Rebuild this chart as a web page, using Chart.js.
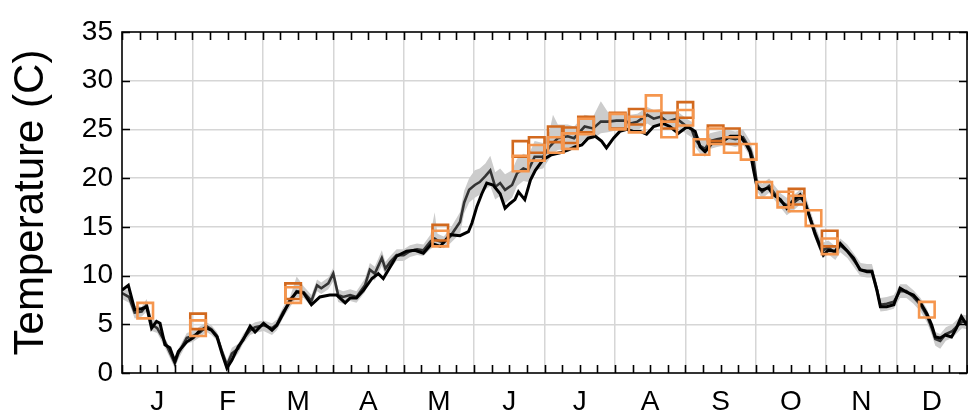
<!DOCTYPE html>
<html>
<head>
<meta charset="utf-8">
<script src="https://cdn.jsdelivr.net/npm/chart.js@4/dist/chart.umd.min.js"></script>
<style>
  html, body { margin: 0; padding: 0; background: #ffffff; overflow: hidden; }
  #wrap { width: 968px; height: 414px; position: relative; overflow: hidden; }
  canvas { display: block; }
</style>
</head>
<body>
<div id="wrap"><canvas id="c" width="968" height="414"></canvas></div>
<script>
// Month tick labels (axis is in months, 0..12)
const monthLabels = ['J','F','M','A','M','J','J','A','S','O','N','D'];

// Series A: black line (month position, temperature C)
const xA = [0.00,0.09,0.18,0.28,0.35,0.42,0.49,0.54,0.61,0.68,0.75,0.80,0.92,
  1.01,1.11,1.20,1.27,1.35,1.42,1.49,1.56,1.65,1.72,1.82,1.89,
  2.01,2.13,2.20,2.29,2.39,2.48,2.58,2.69,2.81,2.95,
  3.05,3.17,3.24,3.33,3.43,3.55,3.64,3.71,3.81,3.90,
  4.04,4.16,4.28,4.40,4.52,4.66,4.80,4.92,4.97,
  5.04,5.11,5.18,5.27,5.37,5.44,5.51,5.58,5.63,5.72,5.80,5.87,5.98,
  6.10,6.22,6.34,6.43,6.53,6.62,6.72,6.81,6.88,6.98,
  7.07,7.17,7.26,7.36,7.45,7.55,7.69,7.78,7.90,
  8.03,8.14,8.21,8.28,8.38,8.49,8.64,8.78,8.87,8.92,8.97,
  9.02,9.09,9.18,9.25,9.35,9.44,9.54,9.63,9.70,9.77,9.84,9.91,9.96,
  10.03,10.13,10.20,10.29,10.39,10.48,10.58,10.65,10.72,10.77,10.86,10.96,
  11.05,11.14,11.24,11.34,11.43,11.50,11.55,11.62,11.69,11.78,11.85,11.92,12.00];
const yA = [8.5,9.0,6.5,6.6,6.8,4.6,5.3,5.1,2.9,2.6,1.2,2.2,3.2,
  3.6,4.4,4.6,4.4,3.7,2.0,0.5,1.3,2.7,3.4,4.8,4.2,
  5.1,4.4,4.9,6.1,7.5,8.3,8.2,7.0,7.8,8.0,
  8.0,7.2,7.7,7.7,8.5,9.7,10.2,9.7,10.9,12.0,
  12.5,12.6,12.3,13.3,13.0,14.2,14.1,14.5,15.4,
  17.1,18.4,19.5,19.3,18.4,16.9,17.4,17.8,18.6,17.8,19.8,20.8,21.9,
  22.4,22.6,22.9,23.2,23.4,24.1,24.3,23.8,23.1,24.1,
  24.8,25.0,24.8,24.8,24.5,25.3,25.6,25.3,24.6,
  25.3,24.8,23.2,22.7,23.6,23.6,24.3,24.3,23.4,22.7,20.8,
  19.0,18.8,19.0,18.3,17.8,16.9,17.8,18.3,17.4,15.9,14.3,13.0,12.1,
  12.6,12.5,13.3,12.6,11.8,10.6,10.4,10.4,8.5,6.8,6.8,7.0,
  8.7,8.3,8.0,7.2,6.1,4.9,3.7,3.6,3.9,3.7,4.6,5.8,4.9];

// Series B: dark grey line with light grey range band (shared month positions)
const xB = [0.00,0.10,0.18,0.28,0.35,0.42,0.50,0.61,0.75,0.80,0.92,
  1.01,1.11,1.20,1.27,1.35,1.42,1.49,1.56,1.65,1.72,1.82,1.89,
  2.01,2.13,2.20,2.29,2.39,2.48,2.58,2.69,2.77,2.83,2.93,
  3.00,3.07,3.14,3.24,3.33,3.45,3.52,3.59,3.69,3.74,3.81,3.90,
  4.00,4.09,4.19,4.28,4.38,4.44,4.48,4.57,4.66,4.80,4.86,4.93,
  5.01,5.08,5.16,5.23,5.30,5.37,5.44,5.54,5.61,5.70,5.77,5.86,5.98,
  6.07,6.12,6.19,6.33,6.42,6.57,6.69,6.80,6.90,
  7.02,7.14,7.22,7.32,7.46,7.55,7.65,7.74,7.88,
  8.02,8.09,8.14,8.21,8.28,8.35,8.45,8.59,8.71,8.82,8.92,8.97,
  9.02,9.09,9.19,9.26,9.36,9.44,9.54,9.63,9.70,9.77,9.84,9.91,9.96,
  10.03,10.13,10.20,10.30,10.39,10.49,10.58,10.65,10.72,10.77,10.86,10.96,
  11.05,11.14,11.24,11.34,11.43,11.50,11.55,11.62,11.70,11.79,11.86,11.93,12.00];
const yB = [8.2,7.8,6.2,6.3,7.0,5.0,4.6,3.2,1.0,2.0,3.6,
  3.8,4.2,4.8,4.5,3.8,2.2,0.8,2.0,2.5,3.5,4.4,4.7,
  4.9,4.6,5.0,6.3,7.3,8.4,8.3,7.4,9.0,8.7,9.2,
  10.2,8.0,7.8,8.0,7.8,9.0,10.6,10.2,11.8,10.7,11.4,12.1,
  12.1,12.5,12.7,12.6,13.5,13.8,13.6,13.4,14.0,15.5,17.5,18.8,
  19.3,19.6,20.2,20.8,19.1,19.5,18.8,19.3,20.5,21.0,20.8,22.2,22.2,
  23.2,23.6,24.1,24.3,24.1,25.3,25.1,25.8,25.8,
  25.9,25.9,25.6,25.8,26.5,26.1,26.3,25.8,26.1,
  25.3,25.0,24.0,23.3,23.0,23.8,24.0,24.2,24.0,24.2,23.0,21.8,
  19.3,18.6,19.2,18.5,17.6,17.2,17.5,18.0,17.6,16.0,14.5,13.2,12.6,
  12.9,12.3,13.1,12.5,11.6,10.6,10.5,10.5,8.6,7.0,7.1,7.3,
  8.4,8.4,7.8,7.0,5.9,4.6,3.5,3.3,4.0,4.3,4.8,5.3,5.2];
const bandHi = [8.7,8.5,6.9,6.8,7.6,5.6,5.3,3.6,1.6,2.5,4.1,
  4.3,4.8,5.2,4.9,4.2,2.7,1.3,2.6,3.0,4.0,4.9,5.2,
  5.4,5.1,5.5,6.8,7.9,9.9,8.9,8.0,9.6,9.3,9.8,
  10.8,8.6,8.4,8.6,8.4,9.7,11.3,10.9,12.6,11.4,12.0,12.7,
  12.7,13.1,13.3,13.2,14.2,16.5,14.3,14.0,14.8,16.5,18.7,20.0,
  20.8,21.0,21.5,22.3,20.6,21.0,20.4,20.8,22.0,22.5,22.3,23.8,23.6,
  24.8,26.5,25.5,25.5,25.3,26.5,26.3,27.9,26.8,
  26.8,26.8,26.5,26.6,27.3,27.0,27.1,26.6,26.9,
  26.1,25.8,24.8,24.1,23.9,24.6,24.8,25.0,24.8,25.0,23.8,22.6,
  20.0,19.4,20.0,19.3,18.4,18.0,18.3,18.8,18.4,16.8,15.2,13.9,13.4,
  13.6,13.0,13.8,13.2,12.3,11.3,11.2,11.2,9.3,7.7,7.8,8.0,
  9.1,9.1,8.5,7.7,6.6,5.3,4.2,4.0,4.7,5.0,5.5,6.0,5.9];
const bandLo = [7.6,7.2,5.6,5.8,6.3,4.3,4.1,2.6,0.5,1.4,3.0,
  3.2,3.7,4.2,3.9,3.3,1.7,0.0,1.2,2.0,3.0,3.9,4.1,
  4.3,3.9,4.4,5.7,6.8,7.8,7.7,6.8,8.4,8.1,8.6,
  9.4,7.3,7.1,7.4,7.2,8.3,9.8,9.5,11.0,10.0,10.7,11.5,
  11.5,11.9,12.1,12.0,12.7,13.0,13.0,12.8,13.3,14.3,16.4,17.5,
  18.0,18.3,18.8,19.2,17.8,18.2,17.4,18.0,19.2,19.7,19.6,20.8,21.0,
  22.0,22.5,22.9,23.0,23.0,24.0,24.0,24.6,24.7,
  24.9,25.0,24.7,24.9,25.6,25.2,25.4,25.0,25.3,
  24.5,24.2,23.2,22.5,22.2,23.0,23.2,23.4,23.2,23.4,22.2,21.0,
  18.6,17.9,18.5,17.8,16.9,16.2,16.7,17.3,16.9,15.3,13.8,12.5,11.8,
  12.2,11.6,12.4,11.8,10.9,9.9,9.8,9.8,7.9,6.3,6.4,6.6,
  7.7,7.7,7.1,6.3,5.2,3.9,2.8,2.5,3.3,3.6,4.1,4.6,4.5];

// Observations: dark orange squares
const xObsDark = [1.08,2.43,4.52,5.66,5.89,6.16,6.36,6.59,7.04,7.31,7.77,8.00,8.43,8.66,9.58,10.05];
const yObsDark = [5.3,8.4,14.4,23.0,23.4,24.5,24.4,25.5,25.9,26.3,25.9,27.0,24.6,24.3,18.1,13.8];
// Observations: light orange squares
const xObsLight = [0.33,1.08,2.43,4.52,5.66,5.89,6.16,6.36,6.59,7.04,7.31,7.55,7.77,8.00,8.23,8.43,8.66,8.90,9.12,9.42,9.58,9.82,10.05,11.43];
const yObsLight = [6.4,4.6,8.0,13.8,21.5,22.6,23.4,23.8,25.3,25.8,25.5,27.7,25.0,26.2,23.2,24.3,23.4,22.7,18.8,17.8,17.4,15.9,13.0,6.5];

const pts = (xs, ys) => xs.map((x, i) => ({ x: x, y: ys[i] }));

const FONT = "'Liberation Sans', Arial, Helvetica, sans-serif";

const frameAndTicks = {
  id: 'frameAndTicks',
  afterDatasetsDraw(chart) {
    const { ctx, chartArea: a, scales } = chart;
    const xs = scales.x, ys = scales.y;
    ctx.save();
    ctx.strokeStyle = '#000';
    ctx.lineWidth = 1.6;
    ctx.beginPath();
    xs.ticks.forEach(t => {
      const px = Math.round(xs.getPixelForValue(t.value)) + 0.5;
      ctx.moveTo(px, a.bottom); ctx.lineTo(px, a.bottom - 8);
      ctx.moveTo(px, a.top); ctx.lineTo(px, a.top + 8);
    });
    ys.ticks.forEach(t => {
      const py = Math.round(ys.getPixelForValue(t.value)) + 0.5;
      ctx.moveTo(a.left, py); ctx.lineTo(a.left + 8, py);
      ctx.moveTo(a.right, py); ctx.lineTo(a.right - 8, py);
    });
    ctx.stroke();
    ctx.lineWidth = 1.6;
    ctx.strokeRect(a.left, a.top, a.right - a.left, a.bottom - a.top);
    ctx.restore();
  }
};

new Chart(document.getElementById('c'), {
  type: 'line',
  data: {
    datasets: [
      { label: 'obsLight', data: pts(xObsLight, yObsLight), showLine: false,
        pointStyle: 'rect', pointRadius: 11, pointBorderWidth: 2.6,
        pointBorderColor: '#F5964E', pointBackgroundColor: 'rgba(0,0,0,0)', order: 0 },
      { label: 'obsDark', data: pts(xObsDark, yObsDark), showLine: false,
        pointStyle: 'rect', pointRadius: 11, pointBorderWidth: 2.6,
        pointBorderColor: '#D2691E', pointBackgroundColor: 'rgba(0,0,0,0)', order: 1 },
      { label: 'A', data: pts(xA, yA), borderColor: '#000000', borderWidth: 3,
        pointRadius: 0, tension: 0, fill: false, order: 2 },
      { label: 'B', data: pts(xB, yB), borderColor: '#333333', borderWidth: 2.6,
        pointRadius: 0, tension: 0, fill: false, order: 3 },
      { label: 'bandHi', data: pts(xB, bandHi), borderWidth: 0, borderColor: 'rgba(0,0,0,0)',
        backgroundColor: '#cccccc', pointRadius: 0, tension: 0, fill: '+1', order: 4 },
      { label: 'bandLo', data: pts(xB, bandLo), borderWidth: 0, borderColor: 'rgba(0,0,0,0)',
        pointRadius: 0, tension: 0, fill: false, order: 5 }
    ]
  },
  options: {
    responsive: false,
    animation: false,
    events: [],
    layout: { autoPadding: false, padding: { top: 32, right: 1, left: 0, bottom: 0 } },
    plugins: { legend: { display: false }, tooltip: { enabled: false } },
    scales: {
      x: {
        type: 'linear', min: 0, max: 12,
        afterFit(s) { s.height = 41; s.paddingRight = 0; },
        border: { display: false },
        grid: {
          drawTicks: true,
          tickLength: 12,
          tickColor: 'rgba(0,0,0,0)',
          lineWidth: 1.5,
          color: c => (c.tick && Number.isInteger(c.tick.value) && c.tick.value > 0 && c.tick.value < 12) ? '#d6d6d6' : 'rgba(0,0,0,0)'
        },
        ticks: {
          stepSize: 0.25, autoSkip: false, maxRotation: 0, minRotation: 0,
          padding: 0, color: '#000',
          font: { family: FONT, size: 28 },
          callback: v => { const k = Math.round(v * 4); return (k % 4 === 2) ? monthLabels[(k - 2) / 4] : ''; }
        }
      },
      y: {
        min: 0, max: 35,
        afterFit(s) { s.width = 122; },
        border: { display: false },
        grid: {
          drawTicks: false,
          lineWidth: 1.5,
          color: c => (c.tick && c.tick.value > 0 && c.tick.value < 35) ? '#d6d6d6' : 'rgba(0,0,0,0)'
        },
        ticks: { stepSize: 5, padding: 9, color: '#000', font: { family: FONT, size: 28 } },
        title: { display: true, text: 'Temperature (C)', color: '#000',
          font: { family: FONT, size: 42 }, padding: { top: 6, bottom: 0 } }
      }
    }
  },
  plugins: [frameAndTicks]
});
</script>
</body>
</html>
